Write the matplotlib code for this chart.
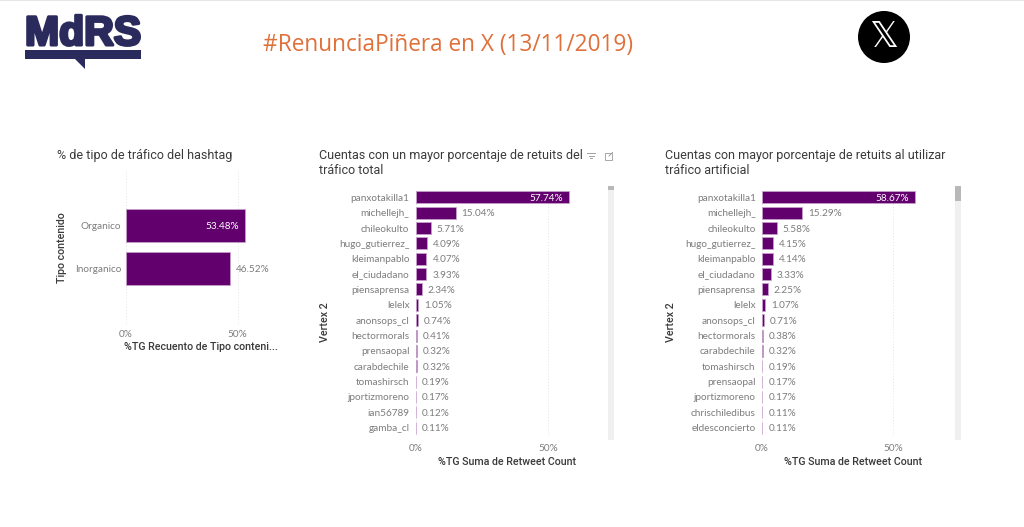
import matplotlib
matplotlib.use("Agg")
import matplotlib.pyplot as plt
import matplotlib.patheffects as pe
from matplotlib.patches import Circle, Polygon, Rectangle

W, H = 1024, 527

tipo_labels = ["Organico", "Inorganico"]
tipo_values = [53.48, 46.52]

total_labels = ["panxotakilla1", "michellejh_", "chileokulto", "hugo_gutierrez_", "kleimanpablo",
                "el_ciudadano", "piensaprensa", "lelelx", "anonsops_cl", "hectormorals", "prensaopal",
                "carabdechile", "tomashirsch", "jportizmoreno", "ian56789", "gamba_cl"]
total_values = [57.74, 15.04, 5.71, 4.09, 4.07, 3.93, 2.34, 1.05, 0.74, 0.41, 0.32, 0.32, 0.19, 0.17, 0.12, 0.11]

artif_labels = ["panxotakilla1", "michellejh_", "chileokulto", "hugo_gutierrez_", "kleimanpablo",
                "el_ciudadano", "piensaprensa", "lelelx", "anonsops_cl", "hectormorals", "carabdechile",
                "tomashirsch", "prensaopal", "jportizmoreno", "chrischiledibus", "eldesconcierto"]
artif_values = [58.67, 15.29, 5.58, 4.15, 4.14, 3.33, 2.25, 1.07, 0.71, 0.38, 0.32, 0.19, 0.17, 0.17, 0.11, 0.11]

PURPLE = "#62006e"
EDGE = "#c7a0cc"
GREY = "#7d7d7d"
DARK = "#3a3a3a"
LABEL_FONT = "Lato"
HEAD_FONT = "Roboto"

fig = plt.figure(figsize=(W / 100, H / 100), dpi=100, facecolor="white")

# overlay in pixel coordinates, for the page furniture
page = fig.add_axes([0, 0, 1, 1], zorder=5)
page.set_xlim(0, W)
page.set_ylim(H, 0)
page.axis("off")
page.patch.set_alpha(0)


def hbar(labels, values, x0, x50, x1, top, bottom, row0, step, bar_h, inside, xpad, ypad):
    ax = fig.add_axes([x0 / W, 1 - bottom / H, (x1 - x0) / W, (bottom - top) / H])
    ax.patch.set_alpha(0)
    per_px = 50 / (x50 - x0)
    ax.set_xlim(0, (x1 - x0) * per_px)
    ax.set_ylim((bottom - row0) / step, (top - row0) / step)
    pos = list(range(len(values)))
    ax.barh(pos, values, height=bar_h / step, color=PURPLE, edgecolor=EDGE, linewidth=0.55, zorder=3)
    for i, v in enumerate(values):
        if v >= inside:
            ax.text(v - 6 * per_px, i, f"{v:.2f}%", color="white", ha="right", va="center_baseline",
                    fontsize=7.2, family=LABEL_FONT, zorder=4)
        else:
            ax.text(v + 6 * per_px, i, f"{v:.2f}%", color=GREY, ha="left", va="center_baseline",
                    fontsize=7.2, family=LABEL_FONT, zorder=4)
    ax.set_yticks(pos)
    ax.set_yticklabels(labels, fontsize=7.2, color=GREY, family=LABEL_FONT)
    ax.set_xticks([0, 50])
    ax.set_xticklabels(["0%", "50%"], fontsize=7.2, color=GREY, family=LABEL_FONT)
    ax.tick_params(axis="both", length=0)
    ax.tick_params(axis="y", pad=ypad)
    ax.tick_params(axis="x", pad=xpad)
    ax.grid(axis="x", color="#e4e4e4", linestyle=(0, (1, 2)), linewidth=0.7, zorder=0)
    for s in ax.spines.values():
        s.set_visible(False)
    return ax


hbar(tipo_labels, tipo_values, 125.7, 237.5, 262, 170, 325, 225.5, 43, 33, 50, 3.8, 3.2)
hbar(total_labels, total_values, 415.7, 548.2, 600, 189.6, 435.4, 197.3, 15.36, 12, 50, 6, 4.5)
hbar(artif_labels, artif_values, 762, 892.8, 948, 189.6, 435.4, 197.3, 15.36, 12, 50, 6, 4.5)


def head(x, y, s, **kw):
    page.text(x, y, s, fontsize=9.0, color=DARK, family=HEAD_FONT, va="center", **kw)


head(57, 156, "% de tipo de tráfico del hashtag")
head(319, 155, "Cuentas con un mayor porcentaje de retuits del")
head(319, 170, "tráfico total")
head(665, 155, "Cuentas con mayor porcentaje de retuits al utilizar")
head(665, 170, "tráfico artificial")

for x, y, s in [(201, 347, "%TG Recuento de Tipo conteni..."),
                (507, 462, "%TG Suma de Retweet Count"),
                (853, 462, "%TG Suma de Retweet Count")]:
    page.text(x, y, s, fontsize=7.7, color=DARK, family=HEAD_FONT, weight="medium", ha="center", va="center")
for x, y, s in [(62, 248, "Tipo contenido"), (325, 322, "Vertex 2"), (671, 322, "Vertex 2")]:
    page.text(x, y, s, fontsize=7.7, color=DARK, family=HEAD_FONT, weight="medium", rotation=90,
              ha="center", va="center")

# main title
page.text(263, 45, "#RenunciaPiñera en X (13/11/2019)", fontsize=16.3, color="#e0703a",
          family="Open Sans", va="center")

# top rule
page.add_patch(Rectangle((0, 0), W, 1.2, color="#e6e6e6", lw=0))

# logo
NAVY = "#2b2a5c"
logo = page.text(25, 45, "MdRS", fontsize=29.5, weight="bold", color=NAVY, family="Liberation Sans",
                 va="baseline", ha="left")
logo.set_path_effects([pe.withStroke(linewidth=2.2, foreground=NAVY)])
page.add_patch(Rectangle((25, 50), 116, 8.5, color=NAVY, lw=0))
page.add_patch(Polygon([(74, 58), (85, 58), (85, 69)], closed=True, color=NAVY, lw=0))

# X badge
page.add_patch(Circle((884, 37), 26, color="black", lw=0))
page.text(884, 37, "\U0001D54F", fontsize=26, color="white", family="DejaVu Sans", ha="center", va="center")

# scrollbars
for x, thumb in [(608, 3.5), (955, 15)]:
    page.add_patch(Rectangle((x, 186), 5.5, 254, color="#f0f0f0", lw=0))
    page.add_patch(Rectangle((x, 186), 5.5, thumb, color="#b8b8b8", lw=0))

# visual header icons
for y, a, b in [(153, 587, 595), (155.5, 588.5, 593.5), (158, 590, 592)]:
    page.plot([a, b], [y, y], color="#a0a0a0", lw=0.7)
page.add_patch(Rectangle((605, 153), 6.5, 6.5, fill=False, ec="#a8a8a8", lw=0.7))
page.plot([609, 612.5], [156, 152.5], color="#a0a0a0", lw=0.7)

fig.savefig("out.png", dpi=100, facecolor="white")
